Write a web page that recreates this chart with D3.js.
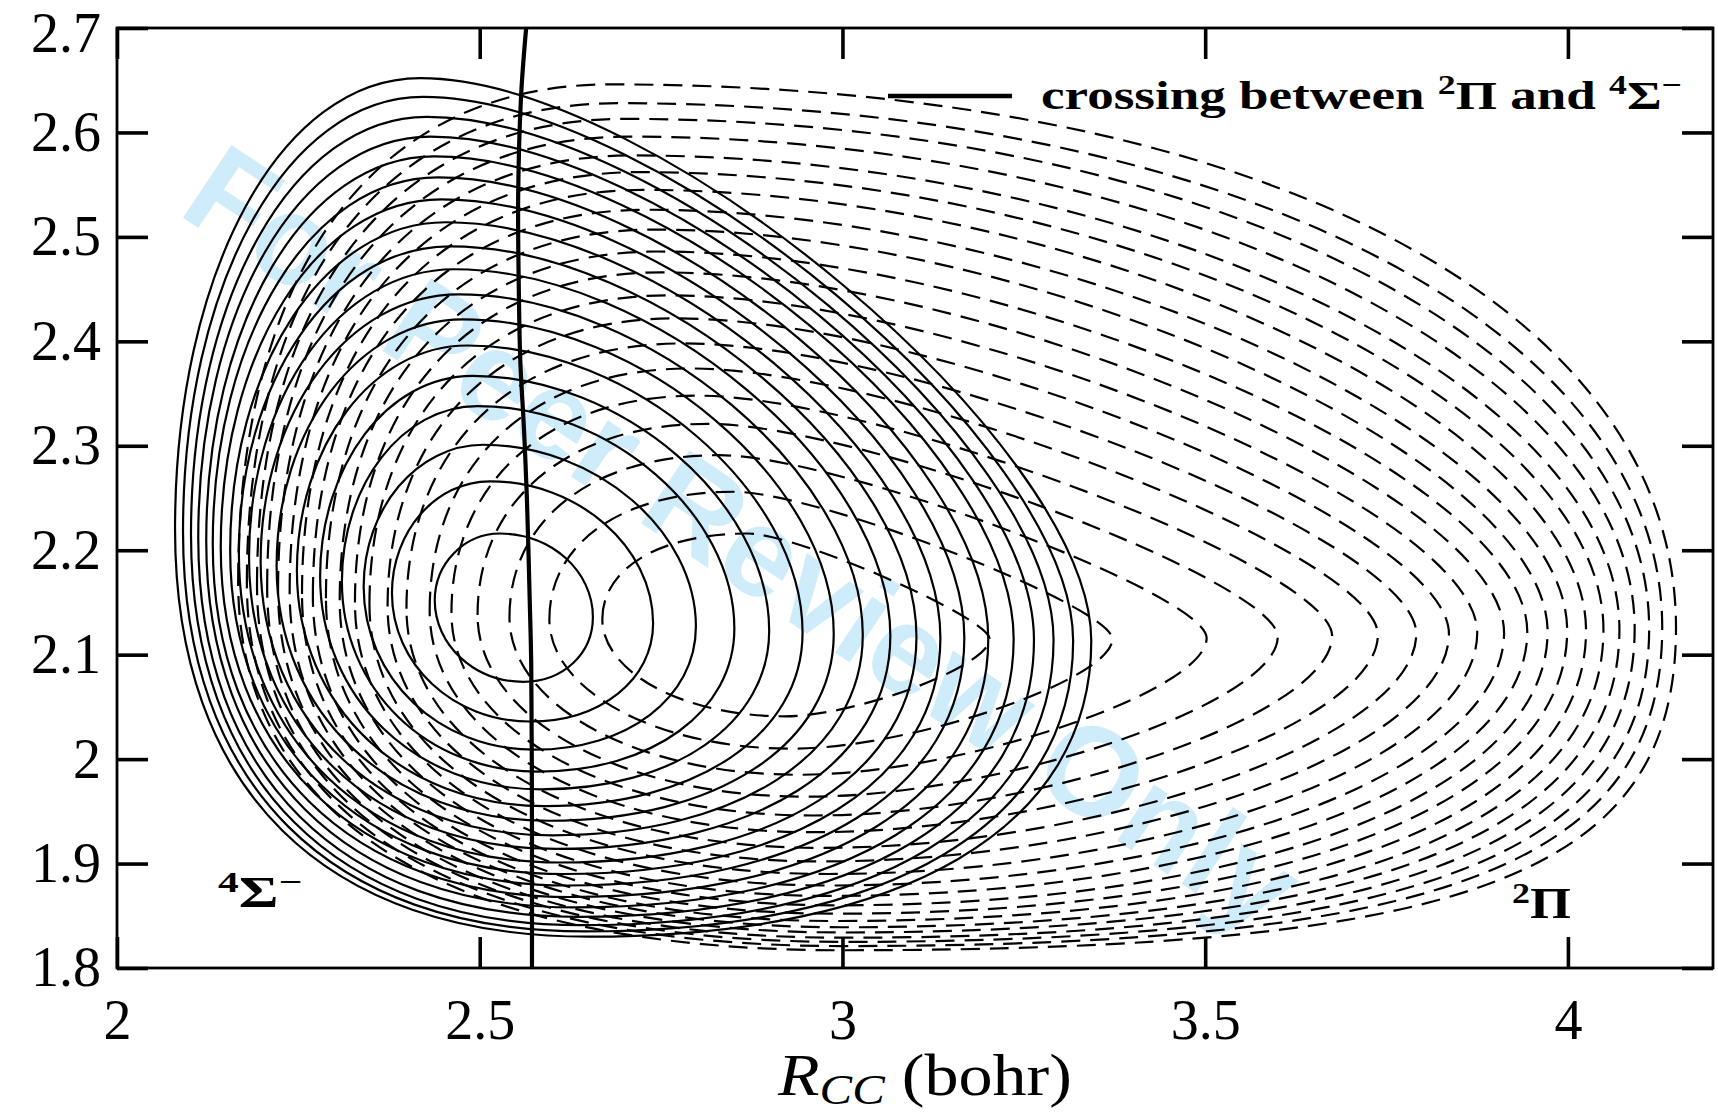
<!DOCTYPE html>
<html>
<head>
<meta charset="utf-8">
<script src="https://cdn.jsdelivr.net/npm/d3@7"></script>
<style>
  body { margin: 0; background: #fff; }
</style>
</head>
<body>
<script>
'use strict';

// ---- values (bohr) ----

// 4Sigma- contours (solid), innermost ring first
const sigmaLeftX   = [2.438, 2.379, 2.340, 2.310, 2.280, 2.248, 2.220, 2.198, 2.182, 2.168, 2.156, 2.143, 2.132, 2.123, 2.112, 2.102, 2.091, 2.080];
const sigmaLeftY   = [2.152, 2.159, 2.165, 2.170, 2.175, 2.180, 2.185, 2.189, 2.193, 2.197, 2.200, 2.203, 2.206, 2.209, 2.212, 2.215, 2.218, 2.220];
const sigmaTopX    = [2.528, 2.514, 2.505, 2.497, 2.490, 2.483, 2.477, 2.471, 2.465, 2.459, 2.453, 2.447, 2.442, 2.437, 2.432, 2.427, 2.422, 2.418];
const sigmaTopY    = [2.216, 2.266, 2.301, 2.338, 2.367, 2.396, 2.421, 2.445, 2.469, 2.491, 2.514, 2.536, 2.557, 2.577, 2.596, 2.615, 2.634, 2.652];
const sigmaRightX  = [2.656, 2.739, 2.798, 2.851, 2.899, 2.945, 2.988, 3.028, 3.066, 3.102, 3.135, 3.168, 3.201, 3.236, 3.264, 3.291, 3.318, 3.343];
const sigmaRightY  = [2.136, 2.130, 2.127, 2.125, 2.123, 2.121, 2.120, 2.119, 2.118, 2.117, 2.116, 2.116, 2.115, 2.115, 2.114, 2.114, 2.113, 2.113];
const sigmaBottomX = [2.560, 2.569, 2.575, 2.580, 2.585, 2.590, 2.595, 2.600, 2.605, 2.610, 2.615, 2.620, 2.625, 2.630, 2.635, 2.640, 2.645, 2.650];
const sigmaBottomY = [2.074, 2.036, 2.009, 1.988, 1.971, 1.955, 1.941, 1.927, 1.914, 1.901, 1.890, 1.879, 1.868, 1.858, 1.849, 1.841, 1.835, 1.830];

// 2Pi contours (dashed), innermost ring first
const piLeftX   = [2.669, 2.596, 2.541, 2.497, 2.461, 2.431, 2.399, 2.373, 2.348, 2.328, 2.307, 2.288, 2.270, 2.255, 2.238, 2.222, 2.207, 2.193, 2.179, 2.167];
const piLeftY   = [2.134, 2.134, 2.136, 2.138, 2.140, 2.142, 2.144, 2.146, 2.148, 2.150, 2.152, 2.154, 2.156, 2.158, 2.160, 2.162, 2.164, 2.166, 2.168, 2.170];
const piTopX    = [2.870, 2.850, 2.830, 2.815, 2.800, 2.790, 2.780, 2.770, 2.760, 2.750, 2.745, 2.740, 2.730, 2.725, 2.720, 2.710, 2.705, 2.700, 2.690, 2.680];
const piTopY    = [2.216, 2.256, 2.291, 2.321, 2.348, 2.374, 2.398, 2.422, 2.444, 2.466, 2.486, 2.507, 2.526, 2.545, 2.562, 2.578, 2.596, 2.613, 2.628, 2.646];
const piRightX  = [3.203, 3.372, 3.502, 3.600, 3.675, 3.738, 3.791, 3.836, 3.875, 3.912, 3.944, 3.972, 3.999, 4.025, 4.049, 4.071, 4.092, 4.112, 4.130, 4.149];
const piRightY  = [2.115, 2.115, 2.116, 2.117, 2.118, 2.119, 2.120, 2.120, 2.121, 2.121, 2.122, 2.122, 2.123, 2.123, 2.124, 2.124, 2.125, 2.125, 2.126, 2.126];
const piBottomX = [2.92, 2.93, 2.94, 2.95, 2.96, 2.96, 2.97, 2.97, 2.98, 2.98, 2.98, 2.99, 2.99, 2.99, 3.00, 3.00, 3.00, 3.00, 3.00, 3.00];
const piBottomY = [2.041, 2.010, 1.985, 1.964, 1.946, 1.930, 1.915, 1.902, 1.890, 1.879, 1.869, 1.860, 1.852, 1.845, 1.839, 1.834, 1.829, 1.825, 1.821, 1.817];

// crossing seam between the two surfaces
const crossX = [2.564, 2.557, 2.553, 2.554, 2.556, 2.561, 2.565, 2.569, 2.571, 2.572, 2.572];
const crossY = [2.700, 2.635, 2.540, 2.444, 2.380, 2.316, 2.250, 2.150, 2.090, 1.930, 1.800];

// axes
const xTicks = [2, 2.5, 3, 3.5, 4];
const xTickLabels = ['2', '2.5', '3', '3.5', '4'];
const yTicks = [1.8, 1.9, 2.0, 2.1, 2.2, 2.3, 2.4, 2.5, 2.6, 2.7];
const yTickLabels = ['1.8', '1.9', '2', '2.1', '2.2', '2.3', '2.4', '2.5', '2.6', '2.7'];

// ---- drawing ----
const W = 1718, H = 1114;
const serif = "'Liberation Serif', 'DejaVu Serif', serif";

// bezier handle fullness per quarter (inner ring -> outer ring)
const sigmaShape = { ul: [0.55, 0.57], ur: [0.55, 0.35], lr: [0.57, 0.63], ll: [0.55, 0.64] };
const piShape    = { ul: [0.60, 0.63], ur: [0.20, 0.60], lr: [0.35, 0.76], ll: [0.55, 0.65] };

const svg = d3.select('body').append('svg')
  .attr('width', W)
  .attr('height', H);

const x = d3.scaleLinear().domain([2, 4.2]).range([117, 1713]);
const y = d3.scaleLinear().domain([1.8, 2.7]).range([968, 28]);

// watermark sits behind everything
svg.append('text')
  .attr('transform', 'translate(176,213) rotate(33.7)')
  .attr('font-family', "'Liberation Sans', Arial, sans-serif")
  .attr('font-weight', 'bold')
  .attr('font-size', 127)
  .attr('fill', '#cfecfa')
  .text('For Peer Review Only');

// one closed ring through its four extreme points
function ringPath(L, T, R, B, k) {
  const p = d3.path();
  p.moveTo(L[0], L[1]);
  p.bezierCurveTo(L[0], L[1] - k.ul * (L[1] - T[1]), T[0] - k.ul * (T[0] - L[0]), T[1], T[0], T[1]);
  p.bezierCurveTo(T[0] + k.ur * (R[0] - T[0]), T[1], R[0], R[1] - k.ur * (R[1] - T[1]), R[0], R[1]);
  p.bezierCurveTo(R[0], R[1] + k.lr * (B[1] - R[1]), B[0] + k.lr * (R[0] - B[0]), B[1], B[0], B[1]);
  p.bezierCurveTo(B[0] - k.ll * (B[0] - L[0]), B[1], L[0], L[1] + k.ll * (B[1] - L[1]), L[0], L[1]);
  p.closePath();
  return p.toString();
}

function drawFamily(lx, ly, tx, ty, rx, ry, bx, by, shape, dash) {
  const n = lx.length;
  const rings = d3.range(n).map(i => {
    const t = n > 1 ? i / (n - 1) : 0;
    const k = {};
    Object.keys(shape).forEach(q => { k[q] = shape[q][0] + (shape[q][1] - shape[q][0]) * t; });
    return ringPath(
      [x(lx[i]), y(ly[i])],
      [x(tx[i]), y(ty[i])],
      [x(rx[i]), y(ry[i])],
      [x(bx[i]), y(by[i])],
      k);
  });
  svg.append('g').selectAll('path')
    .data(rings)
    .enter()
    .append('path')
      .attr('d', d => d)
      .attr('fill', 'none')
      .attr('stroke', '#000')
      .attr('stroke-width', 2.2)
      .attr('stroke-dasharray', dash);
}

drawFamily(sigmaLeftX, sigmaLeftY, sigmaTopX, sigmaTopY, sigmaRightX, sigmaRightY, sigmaBottomX, sigmaBottomY, sigmaShape, null);
drawFamily(piLeftX, piLeftY, piTopX, piTopY, piRightX, piRightY, piBottomX, piBottomY, piShape, '19,10');

// crossing line
const seam = d3.line()
  .x(d => x(d[0]))
  .y(d => y(d[1]))
  .curve(d3.curveCatmullRom);

svg.append('path')
  .datum(crossX.map((v, i) => [v, crossY[i]]))
  .attr('d', seam)
  .attr('fill', 'none')
  .attr('stroke', '#000')
  .attr('stroke-width', 4.2);

// axes with inward ticks on all four sides
function styleAxis(g, labels) {
  g.select('.domain').remove();
  g.selectAll('.tick line').attr('stroke', '#000').attr('stroke-width', 3.6);
  g.attr('font-family', serif).attr('font-size', 56);
  g.selectAll('.tick text').attr('fill', '#000');
  if (!labels) g.selectAll('.tick text').remove();
}

svg.append('g')
  .attr('transform', 'translate(0,968)')
  .call(d3.axisBottom(x).tickValues(xTicks).tickFormat((d, i) => xTickLabels[i]).tickSize(-31).tickPadding(31))
  .call(g => styleAxis(g, true));

svg.append('g')
  .attr('transform', 'translate(0,28)')
  .call(d3.axisTop(x).tickValues(xTicks).tickSize(-31).tickFormat(''))
  .call(g => styleAxis(g, false));

svg.append('g')
  .attr('transform', 'translate(117,0)')
  .call(d3.axisLeft(y).tickValues(yTicks).tickFormat((d, i) => yTickLabels[i]).tickSize(-31).tickPadding(16))
  .call(g => styleAxis(g, true))
  // the top label would poke out of the page, nudge it down a little
  .call(g => g.selectAll('.tick text').filter(d => d === 2.7).attr('dy', '0.42em'));

svg.append('g')
  .attr('transform', 'translate(1713,0)')
  .call(d3.axisRight(y).tickValues(yTicks).tickSize(-31).tickFormat(''))
  .call(g => styleAxis(g, false));

// frame
svg.append('rect')
  .attr('x', 117)
  .attr('y', 28)
  .attr('width', 1713 - 117)
  .attr('height', 968 - 28)
  .attr('fill', 'none')
  .attr('stroke', '#000')
  .attr('stroke-width', 2.8);

// x axis title
const xTitle = svg.append('text')
  .attr('x', 778)
  .attr('y', 1095)
  .attr('font-family', serif)
  .attr('font-size', 60)
  .attr('textLength', 294)
  .attr('lengthAdjust', 'spacingAndGlyphs');
xTitle.append('tspan').attr('font-style', 'italic').text('R');
xTitle.append('tspan').attr('font-style', 'italic').attr('font-size', 43).attr('dy', 9).text('CC');
xTitle.append('tspan').attr('dy', -9).text(' (bohr)');

// state labels
function stateLabel(px, py, mult, sym, minus, width) {
  const t = svg.append('text')
    .attr('x', px)
    .attr('y', py)
    .attr('font-family', serif)
    .attr('font-weight', 'bold')
    .attr('font-size', 44)
    .attr('textLength', width)
    .attr('lengthAdjust', 'spacingAndGlyphs');
  t.append('tspan').attr('font-size', 30).attr('dy', -15).text(mult);
  t.append('tspan').attr('dy', 15).text(sym);
  if (minus) t.append('tspan').attr('font-size', 30).attr('dy', -15).text('\u2212');
  return t;
}
stateLabel(218, 907, '4', '\u03A3', true, 84);
stateLabel(1512, 918, '2', '\u03A0', false, 59);

// legend
svg.append('line')
  .attr('x1', 888).attr('x2', 1012)
  .attr('y1', 96).attr('y2', 96)
  .attr('stroke', '#000')
  .attr('stroke-width', 4.4);

const leg = svg.append('text')
  .attr('x', 1041)
  .attr('y', 109)
  .attr('font-family', serif)
  .attr('font-weight', 'bold')
  .attr('font-size', 40)
  .attr('textLength', 641)
  .attr('lengthAdjust', 'spacingAndGlyphs');
leg.append('tspan').text('crossing between ');
leg.append('tspan').attr('font-size', 27).attr('dy', -15).text('2');
leg.append('tspan').attr('dy', 15).text('\u03A0 and ');
leg.append('tspan').attr('font-size', 27).attr('dy', -15).text('4');
leg.append('tspan').attr('dy', 15).text('\u03A3');
leg.append('tspan').attr('font-size', 27).attr('dy', -15).text('\u2212');
</script>
</body>
</html>
